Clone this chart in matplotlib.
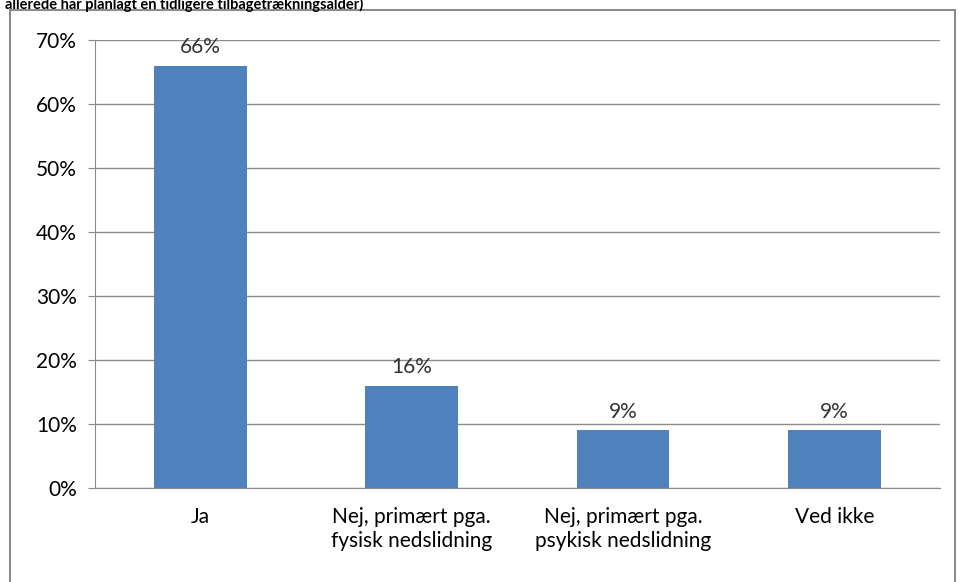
import matplotlib.pyplot as plt
from matplotlib.patches import Rectangle

categories = ['Ja', 'Nej, primært pga.\nfysisk nedslidning',
              'Nej, primært pga.\npsykisk nedslidning', 'Ved ikke']
values = [66, 16, 9, 9]
yticks = [0, 10, 20, 30, 40, 50, 60, 70]

plt.rcParams['font.family'] = ['Lato', 'DejaVu Sans']

fig = plt.figure(figsize=(9.59, 5.82), dpi=100)
ax = fig.add_axes([0.099, 0.1615, 0.881, 0.7695])

# outer chart frame (bottom edge is cut off in the original)
fig.patches.append(Rectangle((10 / 959, -0.01), 945 / 959, 1 - 10 / 582 + 0.01,
                             transform=fig.transFigure, fill=False,
                             edgecolor='#8c8c8c', linewidth=1.5))

# title, cut off at the top like in the original
fig.text(0.005, 0.993, 'allerede har planlagt en tidligere tilbagetrækningsalder)',
         ha='left', va='center', fontsize=10.5, fontweight='bold')

x = range(len(categories))
ax.bar(x, values, width=0.44, color='#4f81bd', zorder=3)
for xi, v in zip(x, values):
    ax.text(xi, v + 1.3, f'{v}%', ha='center', va='bottom', fontsize=15, color='#333333')

ax.set_xlim(-0.5, 3.5)
ax.set_ylim(0, 70)
ax.set_yticks(yticks)
ax.set_yticklabels([f'{t}%' for t in yticks], fontsize=15)
ax.set_xticks(list(x))
ax.set_xticklabels(categories, fontsize=15, linespacing=1.25)
ax.tick_params(axis='x', length=0, pad=14)
ax.tick_params(axis='y', length=5, color='#8c8c8c', pad=8)
ax.yaxis.grid(True, color='#8c8c8c', linewidth=1, zorder=0)
for s in ['top', 'right']:
    ax.spines[s].set_visible(False)
ax.spines['left'].set_color('#8c8c8c')
ax.spines['bottom'].set_color('#8c8c8c')

fig.savefig('out.png', dpi=100)
